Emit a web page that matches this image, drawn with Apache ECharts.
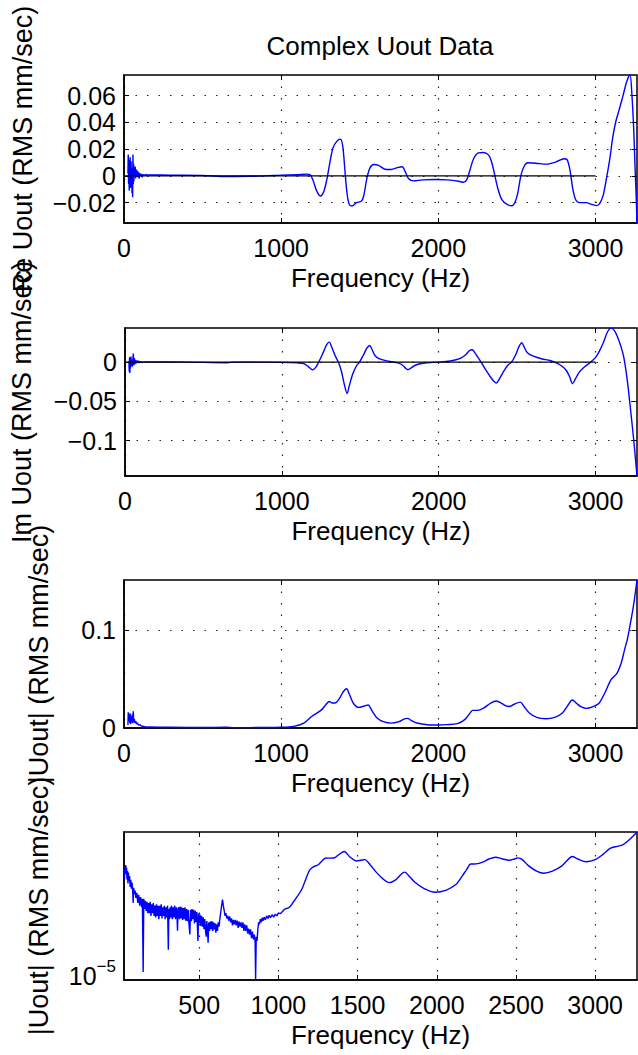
<!DOCTYPE html>
<html><head><meta charset="utf-8">
<script src="https://cdn.jsdelivr.net/npm/echarts@6/dist/echarts.min.js"></script>
<style>html,body{margin:0;padding:0;background:#fff;}#c{width:638px;height:1055px;}</style>
</head><body><div id="c"></div>
<script>
// ---------- text ----------
const chartTitle = 'Complex Uout Data';
const xLabel = 'Frequency (Hz)';
const yLabels = ['Re Uout (RMS mm/sec)', 'Im Uout (RMS mm/sec)', '|Uout| (RMS mm/sec)', '|Uout| (RMS mm/sec)'];

// ---------- ticks ----------
const xTicksLin = [0, 1000, 2000, 3000];
const xTicksLog = [500, 1000, 1500, 2000, 2500, 3000];
const reTicks = [-0.02, 0, 0.02, 0.04, 0.06];
const imTicks = [-0.1, -0.05, 0];
const absTicks = [0, 0.1];
const logTick = 1e-5;

// ---------- axis ranges ----------
const fMaxAll = 3264;
const fMinLog = 25;
const reRange = [-0.0352, 0.0754];
const imRange = [-0.145, 0.0434];
const absRange = [0, 0.151];
const logRange = [6.33e-6, 0.151];
const zeroLine = [[0, 0], [3000, 0]];

// ---------- Re Uout ----------
const reNoiseF = [25,27,29,31,33,35,37,39,41,43,45,47,49,51,53,55,57,59,61,63,65,68,71,74,77,80,84,88,92,96,100,105,110,115,120,130,140,150];
const reNoiseV = [0.002,0.016,-0.006,0.012,-0.011,0.008,-0.004,0.014,-0.009,0.003,0.011,-0.008,0.006,-0.013,0.004,-0.016,0.016,-0.006,0.009,-0.004,0.006,0.001,0.007,-0.002,0.005,0.0,0.004,-0.001,0.003,-0.002,0.002,0.0,0.0015,-0.001,0.001,0.0005,0.001,0.0008];
const reF = [150,300,500,650,800,900,1000,1100,1160,1185,1205,1225,1250,1270,1290,1310,1330,1355,1378,1392,1405,1418,1432,1450,1480,1510,1525,1545,1565,1590,1620,1660,1700,1740,1770,1790,1810,1840,1900,1980,2060,2130,2160,2180,2200,2225,2255,2285,2320,2340,2360,2380,2405,2440,2470,2490,2505,2525,2545,2570,2620,2690,2750,2800,2820,2838,2856,2875,2900,2940,2980,3010,3030,3050,3068,3090,3110,3130,3152,3175,3195,3210,3220,3232,3243,3252,3258,3264];
const reV = [0.0008,0.0005,0.0003,-0.0005,-0.0003,0.0,0.0006,0.0009,0.0013,0.0008,-0.004,-0.011,-0.015,-0.012,-0.003,0.010,0.021,0.026,0.0275,0.022,0.005,-0.012,-0.021,-0.0225,-0.020,-0.019,-0.015,-0.002,0.006,0.0085,0.0078,0.005,0.0048,0.0062,0.0068,0.003,-0.002,-0.0037,-0.003,-0.0027,-0.003,-0.004,-0.0048,-0.003,0.004,0.013,0.0172,0.0175,0.0155,0.010,0.0,-0.010,-0.018,-0.0215,-0.0223,-0.019,-0.013,0.0,0.007,0.0098,0.0095,0.0088,0.0105,0.0128,0.012,0.004,-0.010,-0.018,-0.020,-0.020,-0.0215,-0.0222,-0.020,-0.014,-0.003,0.012,0.029,0.041,0.050,0.060,0.069,0.074,0.0754,0.060,0.035,0.005,-0.013,-0.035];

// ---------- Im Uout ----------
const imNoiseF = [25,27,29,31,33,35,38,41,44,47,50,53,56,59,62,66,70,75,80,86,92,100,110,120];
const imNoiseV = [0.001,-0.012,0.006,-0.014,0.004,-0.008,0.007,-0.005,0.003,-0.006,0.002,0.011,-0.004,0.005,-0.003,0.003,-0.002,0.002,-0.001,0.0015,-0.001,0.0008,-0.0005,0.0003];
const imF = [120,400,650,700,1000,1100,1140,1170,1196,1215,1240,1265,1285,1302,1320,1340,1360,1380,1400,1416,1430,1450,1475,1495,1520,1540,1559,1575,1595,1623,1680,1740,1770,1790,1804,1820,1850,1900,2000,2063,2110,2141,2170,2195,2213,2230,2250,2270,2300,2330,2350,2368,2385,2410,2440,2464,2490,2510,2529,2545,2565,2607,2660,2710,2760,2790,2815,2835,2853,2870,2895,2930,2969,3000,3021,3050,3075,3098,3120,3140,3163,3180,3202,3220,3241,3255,3264];
const imV = [0.0003,0.0,-0.0008,0.0,-0.0003,-0.001,-0.002,-0.006,-0.0097,-0.007,0.002,0.013,0.022,0.0254,0.018,0.008,0.0,-0.012,-0.030,-0.040,-0.030,-0.016,-0.005,0.0,0.009,0.017,0.0212,0.016,0.008,0.004,0.001,-0.001,-0.004,-0.008,-0.0097,-0.008,-0.004,-0.0015,0.0,0.001,0.003,0.005,0.009,0.0145,0.0157,0.012,0.006,0.0,-0.010,-0.019,-0.024,-0.0267,-0.022,-0.013,-0.004,0.0,0.009,0.019,0.0246,0.019,0.012,0.0072,0.004,0.002,-0.002,-0.006,-0.011,-0.019,-0.0275,-0.022,-0.013,-0.006,0.0,0.006,0.0127,0.025,0.038,0.0432,0.040,0.032,0.019,0.006,-0.023,-0.055,-0.095,-0.125,-0.145];

// ---------- |Uout| linear ----------
const absNoiseF = [25,27,29,31,33,35,37,39,41,43,45,47,50,53,56,59,62,66,70,75,80,86,92,100,110,120,135,150];
const absNoiseV = [0.003,0.016,0.007,0.014,0.009,0.012,0.005,0.015,0.008,0.004,0.012,0.009,0.006,0.014,0.005,0.017,0.006,0.009,0.005,0.007,0.004,0.005,0.003,0.0035,0.002,0.0018,0.0012,0.001];
const absF = [150,300,500,650,700,900,1000,1079,1144,1196,1230,1260,1285,1307,1325,1343,1370,1395,1416,1435,1460,1494,1530,1553,1580,1610,1650,1701,1750,1780,1804,1830,1870,1930,1998,2060,2120,2155,2180,2205,2218,2250,2290,2330,2368,2400,2430,2451,2480,2521,2545,2581,2630,2684,2740,2788,2820,2853,2880,2910,2943,2980,3021,3060,3098,3137,3165,3185,3202,3220,3241,3264];
const absV = [0.001,0.0007,0.0005,0.0008,0.0004,0.0005,0.0008,0.0017,0.005,0.012,0.0155,0.019,0.024,0.027,0.0255,0.0255,0.030,0.037,0.040,0.034,0.025,0.021,0.0225,0.0234,0.017,0.0102,0.0065,0.005,0.0065,0.009,0.0098,0.0075,0.0048,0.0033,0.003,0.0034,0.0044,0.007,0.0105,0.016,0.018,0.018,0.0205,0.025,0.0275,0.0255,0.0225,0.022,0.024,0.0264,0.022,0.015,0.0105,0.0095,0.0108,0.015,0.022,0.0285,0.025,0.0215,0.020,0.0215,0.025,0.036,0.049,0.056,0.067,0.080,0.090,0.105,0.124,0.151];

// ---------- |Uout| log ----------
const logNoiseF = [25,28,30,33,36,38,41,44,47,50,53,56,60,64,68,72,76,80,83,86,90,95,100,106,112,118,124,130,136,141,146,150,155,160,165,170,175,180,185,190,195,200,205,210,215,220,225,230,235,240,245,250,255,260,265,270,275,280,285,290,295,300,305,308,312,316,320,325,330,335,340,345,350,355,360,363,366,370,375,380,385,390,395,400,405,410,415,420,425,430,435,441,445,450,455,460,465,470,475,480,485,492,496,500,505,510,515,520,525,530,535,540,544,548,552,556,560,565,570,575,580,585,590,595,600,605,610,615,620,625,630,635,640,647,652,658,663,668,674,680,686,692,698,704,710,716,722,728,734,740,746,752,758,764,770,776,782,788,794,800,806,812,818,824,830,836,842,848,853,856,860,865,870,875,880,886,892,898,904,910,918,926,934,942,950,960,970,980,990,1000,1012,1024,1040];
const logNoiseV = [0.011,0.006,0.013,0.0085,0.016,0.009,0.0135,0.006,0.0105,0.0045,0.0095,0.0055,0.0075,0.0036,0.0058,0.0032,0.0048,0.0026,0.0012,0.0034,0.0022,0.0028,0.0017,0.0024,0.0012,0.0021,0.001,0.0018,0.0009,0.0016,0.000011,0.0016,0.0008,0.0014,0.0007,0.0013,0.0006,0.0012,0.0006,0.0013,0.0005,0.0011,0.0006,0.0012,0.0005,0.001,0.00045,0.0011,0.0005,0.001,0.0004,0.001,0.0005,0.0011,0.00042,0.0009,0.0005,0.001,0.0004,0.0009,0.00045,0.001,0.00005,0.0008,0.0004,0.0009,0.00045,0.001,0.0004,0.0009,0.00045,0.001,0.0004,0.0009,0.00045,0.00018,0.0008,0.0009,0.0004,0.00095,0.00042,0.0009,0.00038,0.00085,0.0004,0.0009,0.00036,0.0008,0.00035,0.00075,0.0003,0.00014,0.00075,0.00035,0.0008,0.0004,0.00075,0.0003,0.0007,0.00033,0.00065,0.00009,0.0006,0.0003,0.00055,0.00025,0.0005,0.00024,0.00045,0.0002,0.0004,0.00018,0.00012,0.00035,0.0002,0.00008,0.00032,0.00018,0.00034,0.0002,0.00035,0.00018,0.00032,0.0002,0.0003,0.00016,0.00028,0.00018,0.00032,0.00024,0.0004,0.0006,0.0009,0.0015,0.001,0.0007,0.0005,0.0006,0.00042,0.0005,0.00036,0.00048,0.00032,0.00042,0.00026,0.00038,0.00028,0.00038,0.00026,0.00036,0.00022,0.00034,0.00024,0.00032,0.00022,0.00032,0.00018,0.00028,0.00018,0.00026,0.00015,0.00021,0.00014,0.0002,0.00011,0.00017,0.0001,0.00014,0.00008,0.0000066,0.00012,0.00009,0.0002,0.00032,0.00028,0.0004,0.00032,0.00044,0.00036,0.00046,0.00038,0.0005,0.00042,0.00052,0.00044,0.00054,0.00046,0.00056,0.0005,0.0006,0.00058,0.00066,0.0008];
const logF = [1040,1070,1100,1147,1175,1198,1225,1249,1275,1300,1325,1352,1380,1416,1450,1493,1520,1545,1580,1620,1660,1699,1740,1775,1797,1820,1860,1920,1990,2060,2120,2160,2190,2213,2250,2290,2330,2372,2410,2457,2490,2514,2540,2580,2630,2675,2730,2790,2820,2855,2890,2944,3000,3050,3097,3140,3174,3210,3240,3264];
const logV = [0.0008,0.0009,0.0014,0.003,0.0065,0.0115,0.0145,0.016,0.021,0.0256,0.0255,0.0258,0.032,0.040,0.028,0.021,0.022,0.023,0.016,0.0095,0.0062,0.0048,0.0058,0.0085,0.0098,0.008,0.005,0.0032,0.0025,0.0029,0.0042,0.0075,0.012,0.017,0.0172,0.0195,0.024,0.027,0.0245,0.022,0.024,0.026,0.023,0.015,0.0105,0.0091,0.0105,0.015,0.021,0.0285,0.024,0.020,0.023,0.033,0.05,0.057,0.063,0.085,0.115,0.151];

// ---------- build ----------
const FONT = "'Liberation Sans', Arial, Helvetica, sans-serif";
const zip = (f, v) => f.map((x, i) => [x, v[i]]);
const fmt = v => {
  const s = String(Math.abs(v));
  return v < 0 ? '\u2212' + s : s;
};
const gridTops = [75, 328, 580, 832];
const dotted = { color: '#222', width: 1.2, type: [1.5, 10] };

const grids = gridTops.map(t => ({
  left: 124, right: 1, top: t, height: 148,
  show: true, borderColor: '#000', borderWidth: 1.5, backgroundColor: 'transparent'
}));

function xAxisDef(i, min, ticks) {
  return {
    gridIndex: i, type: 'value', min: min, max: fMaxAll,
    axisLine: { onZero: false, lineStyle: { color: '#000', width: 1.5 } },
    axisTick: { inside: true, length: 5, customValues: ticks, lineStyle: { color: '#000' } },
    axisLabel: { customValues: ticks, fontSize: 25, color: '#000', fontFamily: FONT, margin: 12, formatter: v => String(v) },
    splitLine: { show: true, lineStyle: dotted },
    name: xLabel, nameLocation: 'middle', nameGap: 42,
    nameTextStyle: { fontSize: 26, color: '#000', fontFamily: FONT }
  };
}
function xTopDef(i, min, ticks) {
  return {
    gridIndex: i, type: 'value', position: 'top', min: min, max: fMaxAll,
    axisLine: { show: false, onZero: false },
    axisTick: { inside: true, length: 5, customValues: ticks, lineStyle: { color: '#000' } },
    axisLabel: { show: false, customValues: ticks },
    splitLine: { show: false }
  };
}
function yAxisDef(i, range, ticks, gap) {
  return {
    gridIndex: i, type: 'value', min: range[0], max: range[1],
    axisLine: { onZero: false, lineStyle: { color: '#000', width: 1.5 } },
    axisTick: { inside: true, length: 5, customValues: ticks, lineStyle: { color: '#000' } },
    axisLabel: { customValues: ticks, fontSize: 25, color: '#000', fontFamily: FONT, margin: 8, formatter: fmt },
    splitLine: { show: true, lineStyle: dotted },
    name: yLabels[i], nameLocation: 'middle', nameGap: gap, nameRotate: 90,
    nameTextStyle: { fontSize: 27, color: '#000', fontFamily: FONT }
  };
}
function yRightDef(i, range, ticks) {
  return {
    gridIndex: i, type: 'value', position: 'right', min: range[0], max: range[1],
    axisLine: { show: false, onZero: false },
    axisTick: { inside: true, length: 5, customValues: ticks, lineStyle: { color: '#000' } },
    axisLabel: { show: false, customValues: ticks },
    splitLine: { show: false }
  };
}

const xAxes = [
  xAxisDef(0, 0, xTicksLin),
  xAxisDef(1, 0, xTicksLin),
  xAxisDef(2, 0, xTicksLin),
  xAxisDef(3, fMinLog, xTicksLog),
  xTopDef(0, 0, xTicksLin),
  xTopDef(1, 0, xTicksLin),
  xTopDef(2, 0, xTicksLin),
  xTopDef(3, fMinLog, xTicksLog)
];
const yAxes = [
  yAxisDef(0, reRange, reTicks, 88),
  yAxisDef(1, imRange, imTicks, 90),
  yAxisDef(2, absRange, absTicks, 72),
  {
    gridIndex: 3, type: 'log', logBase: 10, min: logRange[0], max: logRange[1],
    axisLine: { onZero: false, lineStyle: { color: '#000', width: 1.5 } },
    axisTick: { show: false },
    axisLabel: {
      fontSize: 25, color: '#000', fontFamily: FONT, margin: 8,
      formatter: v => (Math.abs(Math.log10(v) - Math.log10(logTick)) < 0.01 ? '{a|10}{b|\u22125}' : ''),
      rich: {
        a: { fontSize: 25, fontFamily: FONT, color: '#000', lineHeight: 30, verticalAlign: 'bottom' },
        b: { fontSize: 17, fontFamily: FONT, color: '#000', lineHeight: 17, verticalAlign: 'top' }
      }
    },
    splitLine: { show: false },
    name: yLabels[3], nameLocation: 'middle', nameGap: 72, nameRotate: 90,
    nameTextStyle: { fontSize: 27, color: '#000', fontFamily: FONT }
  },
  yRightDef(0, reRange, reTicks),
  yRightDef(1, imRange, imTicks),
  yRightDef(2, absRange, absTicks)
];

const blue = { color: '#0000ff', width: 1.4 };
function line(i, data, smooth) {
  return { type: 'line', xAxisIndex: i, yAxisIndex: i, data: data, showSymbol: false, smooth: smooth ? 0.3 : false,
           lineStyle: blue, itemStyle: { color: '#0000ff' }, silent: true };
}
const series = [
  line(0, zip(reNoiseF, reNoiseV), false),
  line(0, zip(reF, reV), true),
  { type: 'line', xAxisIndex: 0, yAxisIndex: 0, data: zeroLine, showSymbol: false, lineStyle: { color: '#000', width: 1.3 }, silent: true },
  line(1, zip(imNoiseF, imNoiseV), false),
  line(1, zip(imF, imV), true),
  { type: 'line', xAxisIndex: 1, yAxisIndex: 1, data: zeroLine, showSymbol: false, lineStyle: { color: '#000', width: 1.3 }, silent: true },
  line(2, zip(absNoiseF, absNoiseV), false),
  line(2, zip(absF, absV), true),
  Object.assign(line(3, zip(logNoiseF, logNoiseV), false), {
    markLine: { silent: true, symbol: 'none', label: { show: false }, lineStyle: dotted, data: [{ yAxis: logTick }] }
  }),
  line(3, zip(logF, logV), true)
];

const chart = echarts.init(document.getElementById('c'), null, { renderer: 'svg' });
chart.setOption({
  animation: false,
  backgroundColor: '#fff',
  graphic: [{
    type: 'text', x: 380, y: 46,
    style: { text: chartTitle, fontSize: 26, fontFamily: FONT, fill: '#000', textAlign: 'center', textVerticalAlign: 'middle' }
  }],
  grid: grids,
  xAxis: xAxes,
  yAxis: yAxes,
  series: series
});
</script>
</body></html>
